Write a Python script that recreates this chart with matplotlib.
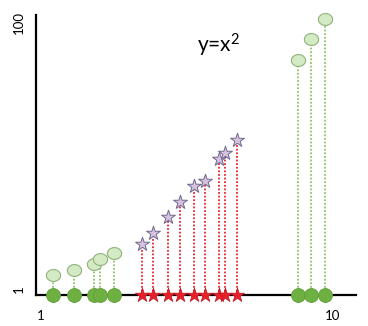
import matplotlib.pyplot as plt
import numpy as np
from matplotlib.path import Path

plt.rcParams['font.family'] = ['Lato', 'DejaVu Sans']
plt.rcParams['mathtext.default'] = 'regular'

# points drawn as green balloons
green_x = [1.37, 2.02, 2.63, 2.82, 3.25, 8.92, 9.32, 9.75]
green_y = [6.2, 8.1, 10.3, 12.2, 14.4, 86.2, 94.0, 101.5]

# points drawn as stars
star_x = [4.11, 4.45, 4.91, 5.28, 5.72, 6.06, 6.49, 6.67, 7.04]
star_y = [17.7, 21.8, 27.8, 33.4, 39.3, 41.2, 49.4, 51.6, 56.5]

x_ticks = [1, 10]
y_ticks = [1, 100]
title = 'y=x$^2$'

x_lo, x_hi = 0.846, 10.71
y_lo, y_hi = -1.23, 102.97

# slightly wide ellipse for the balloon tops
t = np.linspace(0, 2 * np.pi, 60)
ellipse = Path(np.column_stack([1.2 * np.cos(t), np.sin(t)]), closed=True)

fig = plt.figure(figsize=(3.68, 3.26), dpi=100)
ax = fig.add_axes([36 / 368, 31 / 326, 320 / 368, 280 / 326])

ax.vlines(green_x, y_lo, green_y, colors='#8cc36a', linestyles=(0, (1, 1)),
          linewidth=1.3, zorder=1)
ax.vlines(star_x, y_lo, star_y, colors='#e8242c', linestyles=(0, (1, 1)),
          linewidth=1.3, zorder=1)

ax.scatter(green_x, green_y, marker=ellipse, s=105, facecolor='#d4eac5',
           edgecolor='#8fb27a', linewidth=0.8, zorder=3, clip_on=False)
ax.scatter(green_x, [y_lo] * len(green_x), marker='o', s=100,
           facecolor='#6fb043', edgecolor='#5f9e38', linewidth=0.6,
           zorder=4, clip_on=False)

ax.scatter(star_x, star_y, marker='*', s=110, facecolor='#d8c3de',
           edgecolor='#6f6790', linewidth=0.7, zorder=3, clip_on=False)
ax.scatter(star_x, [y_lo] * len(star_x), marker='*', s=115,
           facecolor='#e8202a', edgecolor='#c01820', linewidth=0.5,
           zorder=4, clip_on=False)

ax.text(6.46, 91.8, title, fontsize=15, ha='center', va='center')

ax.set_xlim(x_lo, x_hi)
ax.set_ylim(y_lo, y_hi)
ax.set_xticks(x_ticks)
ax.set_xticklabels([str(v) for v in x_ticks])
ax.set_yticks(y_ticks)
ax.set_yticklabels([str(v) for v in y_ticks], rotation=90, va='center')
ax.tick_params(length=0, labelsize=9.5)
ax.tick_params(axis='x', pad=11)
ax.tick_params(axis='y', pad=8)

ax.spines['top'].set_visible(False)
ax.spines['right'].set_visible(False)
ax.spines['left'].set_linewidth(1.6)
ax.spines['bottom'].set_linewidth(1.6)
ax.spines['left'].set_zorder(2)
ax.spines['bottom'].set_zorder(2)

fig.savefig('out.png', dpi=100)
